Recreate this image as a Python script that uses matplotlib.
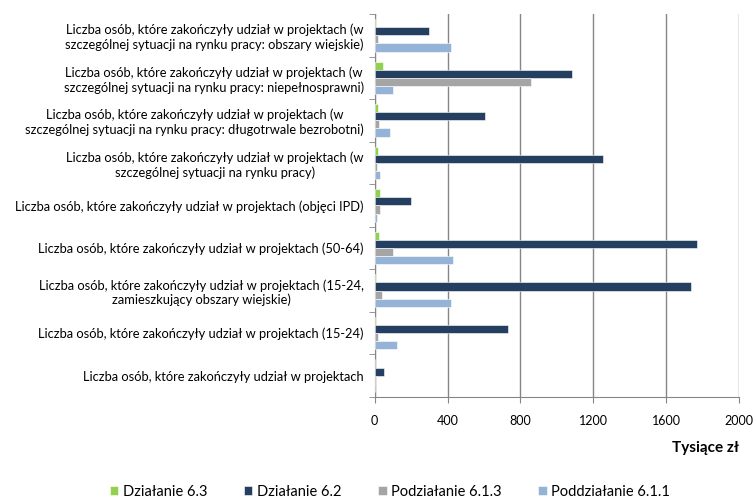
import numpy as np
import matplotlib.pyplot as plt

plt.rcParams["font.family"] = ["Lato", "DejaVu Sans"]

categories = [
    "Liczba osób, które zakończyły udział w projektach (w\nszczególnej sytuacji na rynku pracy: obszary wiejskie)",
    "Liczba osób, które zakończyły udział w projektach (w\nszczególnej sytuacji na rynku pracy: niepełnosprawni)",
    "Liczba osób, które zakończyły udział w projektach (w\nszczególnej sytuacji na rynku pracy: długotrwale bezrobotni)",
    "Liczba osób, które zakończyły udział w projektach (w\nszczególnej sytuacji na rynku pracy)",
    "Liczba osób, które zakończyły udział w projektach (objęci IPD)",
    "Liczba osób, które zakończyły udział w projektach (50-64)",
    "Liczba osób, które zakończyły udział w projektach (15-24,\nzamieszkujący obszary wiejskie)",
    "Liczba osób, które zakończyły udział w projektach (15-24)",
    "Liczba osób, które zakończyły udział w projektach",
]

series_names = ["Działanie 6.3", "Działanie 6.2", "Podziałanie 6.1.3", "Poddziałanie 6.1.1"]
dz_63 = [5, 44, 20, 18, 31, 24, 7, 9, 0]
dz_62 = [296, 1084, 603, 1252, 197, 1768, 1739, 731, 51]
pdz_613 = [16, 857, 26, 11, 31, 99, 42, 20, 7]
pdz_611 = [421, 99, 86, 31, 15, 428, 421, 122, 4]
colors = ["#92D050", "#243F60", "#A5A5A5", "#95B3D7"]

xticks = [0, 400, 800, 1200, 1600, 2000]

fig = plt.figure(figsize=(7.54, 5.03), dpi=100)
ax = fig.add_axes([0.497, 0.211, 0.483, 0.761])

y = np.arange(len(categories))
h = 0.19
for i, (vals, name, col) in enumerate(zip([dz_63, dz_62, pdz_613, pdz_611], series_names, colors)):
    ax.barh(y + (i - 1.5) * h, vals, height=h, color=col, label=name,
            edgecolor="white", linewidth=0.4, zorder=3)

ax.set_xlim(0, 2000)
ax.set_ylim(len(categories) - 0.5, -0.5)
ax.set_xticks(xticks)
ax.set_xticklabels([str(t) for t in xticks], fontsize=9)
ax.grid(axis="x", color="#868686", linewidth=1.0, zorder=0)
ax.tick_params(axis="x", direction="out", length=4, color="#868686", pad=9)

# category labels between boundary ticks
ax.set_yticks(y)
ax.set_yticklabels(categories, fontsize=9.3)
for lbl in ax.get_yticklabels():
    lbl.set_multialignment("center")
ax.tick_params(axis="y", length=0, pad=8)
ax.set_yticks(np.arange(len(categories) + 1) - 0.5, minor=True)
ax.tick_params(axis="y", which="minor", direction="out", length=4, color="#868686")

for s in ["top", "right"]:
    ax.spines[s].set_visible(False)
for s in ["left", "bottom"]:
    ax.spines[s].set_color("#868686")

ax.set_xlabel("Tysiące zł", fontsize=11, fontweight="bold", loc="right", labelpad=10)

fig.legend(loc="center", bbox_to_anchor=(0.517, 0.022), ncol=4, frameon=False,
           fontsize=10.5, handlelength=0.6, handleheight=0.6, handletextpad=0.3,
           columnspacing=2.5)

fig.savefig("out.png", dpi=100)
